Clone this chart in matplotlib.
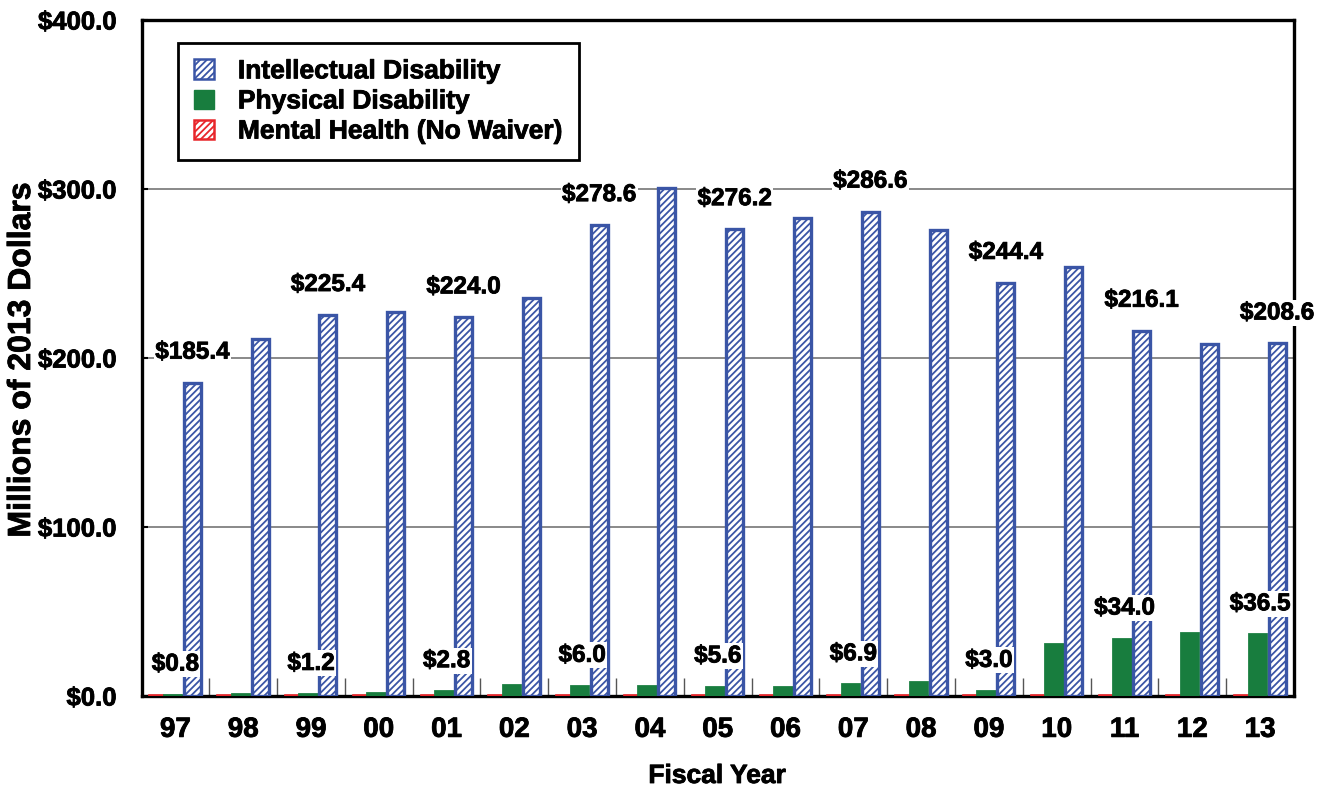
import matplotlib
matplotlib.use('Agg')
import matplotlib.pyplot as plt
from matplotlib.patches import Patch
import matplotlib.patheffects as pe
import numpy as np

years = ['97', '98', '99', '00', '01', '02', '03', '04', '05', '06', '07', '08', '09', '10', '11', '12', '13']
intellectual = [185.4, 211.0, 225.4, 227.4, 224.0, 235.3, 278.6, 300.4, 276.2,
                282.6, 286.6, 275.7, 244.4, 253.7, 216.1, 208.2, 208.6]
physical = [0.8, 0.9, 1.2, 1.9, 2.8, 6.3, 6.0, 6.0, 5.6, 5.5, 6.9, 8.4, 3.0,
            30.5, 34.0, 37.1, 36.5]
mental = [0.4, 0.4, 0.4, 0.4, 0.4, 0.4, 0.4, 0.4, 0.4, 0.4, 0.4, 0.4, 0.4,
          0.4, 0.4, 0.4, 0.4]
labeled_idx = [0, 2, 4, 6, 8, 10, 12, 14, 16]
series_names = ['Intellectual Disability', 'Physical Disability', 'Mental Health (No Waiver)']
yticks = [0, 100, 200, 300, 400]

BLUE = '#3A55A6'
GREEN = '#187D3E'
RED = '#E8262B'

plt.rcParams['font.family'] = ['Liberation Sans', 'DejaVu Sans']
plt.rcParams['font.weight'] = 'bold'
plt.rcParams['hatch.linewidth'] = 1.3

heavy = [pe.withStroke(linewidth=0.6, foreground='black')]

fig = plt.figure(figsize=(13.25, 7.91), dpi=100)
ax = fig.add_axes([141.5 / 1325, 1 - 696 / 791, 1152.5 / 1325, 676 / 791])

x = np.arange(len(years))

ax.bar(x - 0.282, mental, width=0.2, color=RED, edgecolor=RED, linewidth=1.2, zorder=4)
ax.bar(x - 0.04, physical, width=0.26, color=GREEN, edgecolor=GREEN, linewidth=2.0, zorder=4)
ax.bar(x + 0.25, intellectual, width=0.25, facecolor='white', edgecolor=BLUE,
       hatch='/////', linewidth=2.4, zorder=4)

# data labels
for i in labeled_idx:
    ax.annotate('${:.1f}'.format(intellectual[i]), xy=(x[i] + 0.25, intellectual[i]),
                xytext=(0, 22), textcoords='offset points', ha='center', va='center',
                fontsize=17.5, fontweight='bold', zorder=6, path_effects=heavy,
                bbox=dict(facecolor='white', edgecolor='none', pad=1))
    ax.annotate('${:.1f}'.format(physical[i]), xy=(x[i], physical[i]),
                xytext=(0, 22), textcoords='offset points', ha='center', va='center',
                fontsize=17.5, fontweight='bold', zorder=6, path_effects=heavy,
                bbox=dict(facecolor='white', edgecolor='none', pad=1))

ax.set_xlim(-0.5, len(years) - 0.5)
ax.set_ylim(0, 400)
ax.set_yticks(yticks)
ax.set_yticklabels(['${:.1f}'.format(v) for v in yticks], fontsize=18.5, fontweight='bold')
ax.set_xticks(x)
ax.set_xticklabels(years, fontsize=20, fontweight='bold')
ax.tick_params(axis='x', which='major', length=0, pad=15)
ax.set_xticks(np.arange(len(years) - 1) + 0.5, minor=True)
ax.tick_params(axis='x', which='minor', direction='in', length=13, width=1, color='#555555')
ax.tick_params(axis='y', which='major', direction='in', length=4, width=1.5, pad=18)
for lab in ax.get_xticklabels() + ax.get_yticklabels():
    lab.set_path_effects(heavy)

for yv in yticks[1:-1]:
    ax.axhline(yv, color='#808080', linewidth=1.3, zorder=1)

for s in ax.spines.values():
    s.set_linewidth(2.4)
    s.set_color('black')

fig.text(22 / 1325, 1 - 360 / 791, 'Millions of 2013 Dollars', rotation=90,
         ha='center', va='center', fontsize=23, fontweight='bold', path_effects=heavy)
fig.text(717 / 1325, 1 - 776 / 791, 'Fiscal Year', ha='center', va='center',
         fontsize=19, fontweight='bold', path_effects=heavy)

handles = [
    Patch(facecolor='white', edgecolor=BLUE, hatch='/////', linewidth=1.8),
    Patch(facecolor=GREEN, edgecolor=GREEN),
    Patch(facecolor='white', edgecolor=RED, hatch='/////', linewidth=1.8),
]
leg = ax.legend(handles, series_names, loc='upper left',
                bbox_to_anchor=((178 - 141.5) / 1152.5, (696 - 43) / 676),
                borderaxespad=0, prop={'weight': 'bold', 'size': 19},
                frameon=True, fancybox=False, edgecolor='black', framealpha=1,
                handlelength=0.75, handleheight=0.75, handletextpad=0.9,
                labelspacing=0.23, borderpad=0.62)
leg.get_frame().set_linewidth(2)
leg.set_zorder(10)
for t in leg.get_texts():
    t.set_path_effects(heavy)

fig.savefig('out.png', dpi=100)
